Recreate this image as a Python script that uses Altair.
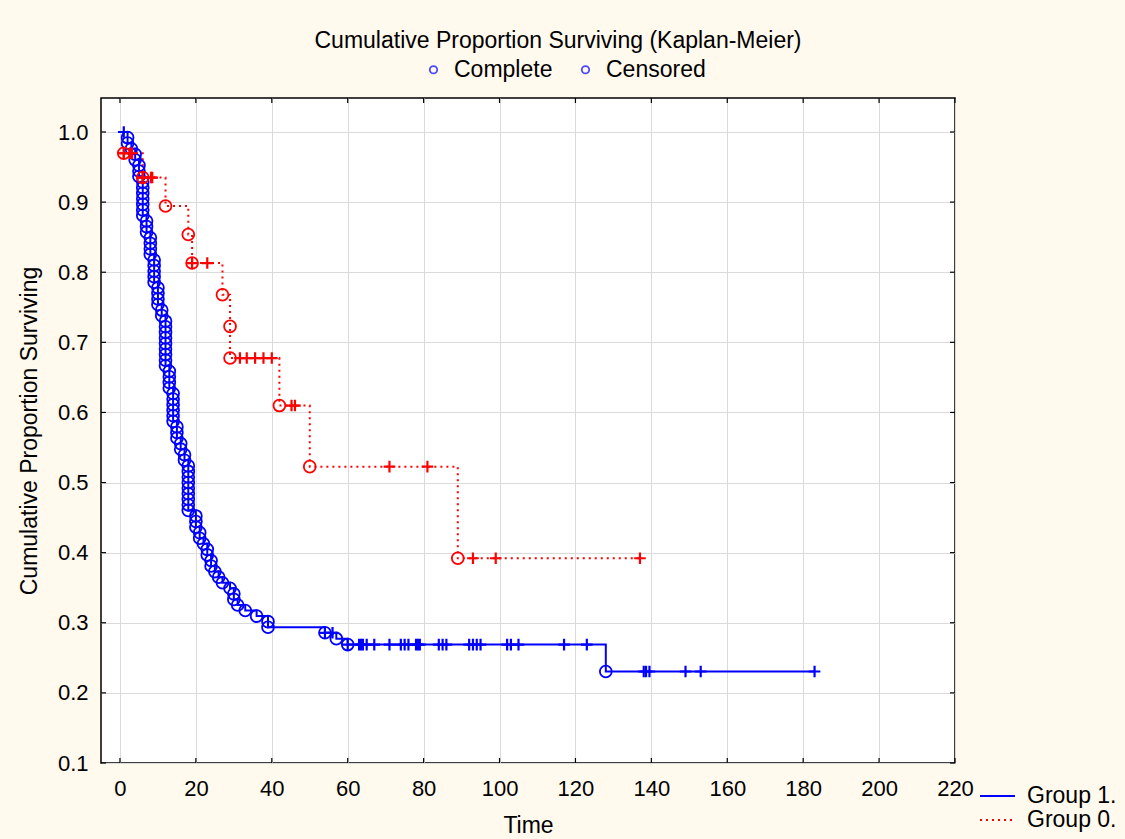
import altair as alt
import pandas as pd

# ---------------- data ----------------
# Group 1. (n = 127): times of deaths with the number of deaths at each time
g1_total = 127
g1_death_times = [2, 3, 4, 5, 6, 7, 8, 9, 10, 11, 12, 13, 14, 15, 16, 17, 18,
                  20, 21, 22, 23, 24, 25, 26, 27, 29, 30, 31, 33, 36, 39,
                  54, 57, 60, 128]
g1_death_counts = [2, 1, 2, 3, 7, 3, 4, 5, 4, 2, 9, 4, 6, 3, 2, 2, 9,
                   3, 2, 1, 2, 2, 1, 1, 1, 1, 2, 1, 1, 1, 2,
                   1, 1, 1, 1]
g1_censor_times = [1, 54, 56, 60, 63, 63.5, 64, 65, 67, 71, 74, 75, 76, 78, 78.5,
                   79, 84, 85, 86, 92, 93, 94, 95, 102, 103, 105, 117, 123,
                   138, 138.6, 139.5, 149, 153, 183]

# Group 0. (n = 33)
g0_total = 33
g0_death_times = [1, 6, 12, 18, 19, 27, 29, 42, 50, 89]
g0_death_counts = [1, 1, 1, 1, 1, 1, 2, 1, 1, 1]
g0_censor_times = [1, 1, 2.6, 3.2, 6, 6, 8.2, 8.5, 19, 23, 31.6, 33.4, 35.6,
                   37.8, 40, 45.2, 46.1, 71, 81, 93, 99, 137]

groups = ["Group 1.", "Group 0."]
group_colors = ["#0000FF", "#FF0000"]
group_dashes = [[1, 0], [2, 4]]
status_labels = ["Complete", "Censored"]
x_ticks = [0, 20, 40, 60, 80, 100, 120, 140, 160, 180, 200, 220]
y_ticks = [0.1, 0.2, 0.3, 0.4, 0.5, 0.6, 0.7, 0.8, 0.9, 1.0]


def kaplan_meier(group, total, death_times, death_counts, censor_times):
    """Product-limit estimate; every case is marked at the level after it."""
    events = [(t, 0, c) for t, c in zip(death_times, death_counts)]
    events += [(t, 1, 1) for t in censor_times]
    events.sort(key=lambda e: (e[0], e[1]))
    at_risk, surv = total, 1.0
    deaths, censored, path = [], [], []
    for t, kind, count in events:
        for _ in range(count):
            if kind == 0:
                if path:
                    path.append((t, surv))
                surv = surv * (at_risk - 1) / at_risk
                deaths.append((t, surv))
            else:
                censored.append((t, surv))
            path.append((t, surv))
            at_risk -= 1
    mk = lambda rows: pd.DataFrame(
        [{"group": group, "time": t, "surv": s, "seq": i} for i, (t, s) in enumerate(rows)]
    )
    return mk(path), mk(deaths), mk(censored)


p1, d1, c1 = kaplan_meier(groups[0], g1_total, g1_death_times, g1_death_counts, g1_censor_times)
p0, d0, c0 = kaplan_meier(groups[1], g0_total, g0_death_times, g0_death_counts, g0_censor_times)
path_df = pd.concat([p1, p0], ignore_index=True)
death_df = pd.concat([d1, d0], ignore_index=True)
cens_df = pd.concat([c1, c0], ignore_index=True)

W, H = 854, 665
FONT = "Liberation Sans"

x_scale = alt.Scale(domain=[-5, 220], nice=False, zero=False)
y_scale = alt.Scale(domain=[0.1, 1.0485], nice=False, zero=False)
x_axis = alt.Axis(values=x_ticks, title="Time", labelPadding=15, titlePadding=15,
                  labelFlush=False, labelOverlap=False)
y_axis = alt.Axis(values=y_ticks, format=".1f", title="Cumulative Proportion Surviving",
                  labelPadding=13, titlePadding=16, labelFlush=False, labelOverlap=False)
X = alt.X("time:Q", scale=x_scale, axis=x_axis)
Y = alt.Y("surv:Q", scale=y_scale, axis=y_axis)

group_legend = alt.Legend(title=None, orient="none", legendX=878, legendY=686,
                          symbolSize=1225, symbolStrokeWidth=2, labelFontSize=23,
                          labelFont=FONT, labelColor="black", labelOffset=11,
                          rowPadding=0, clipHeight=24)

lines = alt.Chart(path_df).mark_line(strokeWidth=2).encode(
    x=X, y=Y,
    stroke=alt.Stroke("group:N", scale=alt.Scale(domain=groups, range=group_colors),
                      legend=group_legend),
    strokeDash=alt.StrokeDash("group:N", scale=alt.Scale(domain=groups, range=group_dashes),
                              legend=group_legend),
    order=alt.Order("seq:Q"),
)

marker_color = alt.Color("group:N", scale=alt.Scale(domain=groups, range=group_colors), legend=None)

deaths = alt.Chart(death_df).mark_point(shape="circle", filled=False, size=140,
                                        strokeWidth=1.8, opacity=1).encode(
    x=X, y=Y, color=marker_color)

cens = alt.Chart(cens_df).mark_point(shape="M-1,0H1M0,-1V1", filled=False, size=135,
                                     strokeWidth=2.2, opacity=1).encode(
    x=X, y=Y, color=marker_color)

# key for the case markers (kept outside the plotted range, only its legend shows)
status_df = pd.DataFrame({"status": status_labels, "time": [-100, -100], "surv": [0.5, 0.5]})
status_key = alt.Chart(status_df).mark_point(shape="circle", filled=False, color="#0000FF",
                                             clip=True, strokeWidth=1.8).encode(
    x=X, y=Y,
    shape=alt.Shape("status:N",
                    scale=alt.Scale(domain=status_labels, range=["circle", "circle"]),
                    legend=alt.Legend(title=None, orient="none", direction="horizontal",
                                      legendX=321, legendY=-40, symbolSize=55,
                                      symbolStrokeWidth=1.8, symbolStrokeColor="#0000FF",
                                      labelFontSize=23, labelFont=FONT, labelColor="black",
                                      labelOffset=9, columnPadding=21)),
)

# inward tick marks on all four sides of the frame
xt = pd.DataFrame({"time": x_ticks})
yt = pd.DataFrame({"surv": y_ticks})
tick_style = dict(color="black", strokeWidth=1.2)
bottom_ticks = alt.Chart(xt).mark_rule(**tick_style).encode(x=X, y=alt.value(H), y2=alt.value(H - 5))
top_ticks = alt.Chart(xt).mark_rule(**tick_style).encode(x=X, y=alt.value(0), y2=alt.value(5))
left_ticks = alt.Chart(yt).mark_rule(**tick_style).encode(y=Y, x=alt.value(0), x2=alt.value(5))
right_ticks = alt.Chart(yt).mark_rule(**tick_style).encode(y=Y, x=alt.value(W), x2=alt.value(W - 5))

chart = alt.layer(
    lines, deaths, cens, status_key, bottom_ticks, top_ticks, left_ticks, right_ticks
).properties(
    width=W, height=H,
    title=alt.TitleParams("Cumulative Proportion Surviving (Kaplan-Meier)", fontSize=23,
                          fontWeight="normal", font=FONT, color="black", anchor="middle",
                          frame="group", dx=30, offset=5),
    autosize=alt.AutoSizeParams(type="none"),
    padding={"left": 101, "top": 98, "right": 170, "bottom": 76},
    background="#FFF9EE",
).configure(font=FONT).configure_view(
    fill="white", stroke="black", strokeWidth=1.5
).configure_axis(
    grid=True, gridColor="#DADADA", gridWidth=1, domain=False, ticks=False,
    labelFontSize=22, labelColor="black", labelFont=FONT,
    titleFontSize=23, titleFontWeight="normal", titleColor="black", titleFont=FONT,
)

chart.save("out.html", embed_options={"renderer": "svg", "actions": False})
